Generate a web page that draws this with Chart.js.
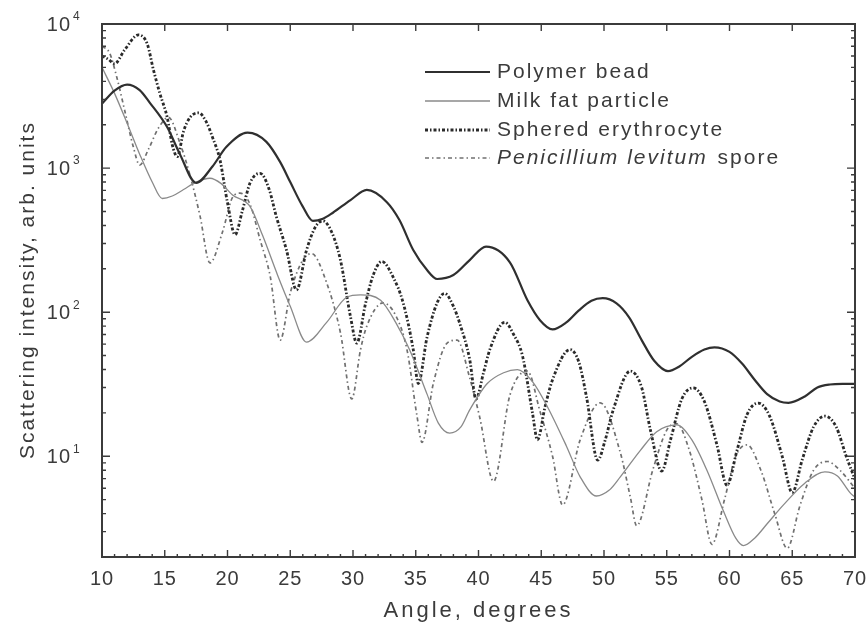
<!DOCTYPE html>
<html>
<head>
<meta charset="utf-8">
<title>Scattering intensity vs angle</title>
<script src="https://cdn.jsdelivr.net/npm/chart.js@4.4.1/dist/chart.umd.min.js"></script>
<style>
  html, body { margin: 0; padding: 0; background: #fff; }
  #wrap { width: 868px; height: 632px; }
</style>
</head>
<body>
<div id="wrap"><canvas id="scatterChart" width="868" height="632"></canvas></div>
<script>
// scattering angle (deg) and intensity (arb. units) per particle type
const beadAngles = [10, 11, 12, 13, 13.8, 15.2, 16.2, 17.5, 18.8, 19.9, 21.6, 23.1, 24.2, 25, 26, 26.8, 27.6, 28.4, 29.8, 31.1,
  32.7, 33.7, 34.8, 35.9, 36.7, 38, 39.3, 40.6, 42.5, 43.9, 44.9, 45.9, 47, 48, 49, 49.9, 51, 52, 53, 54,
  55.1, 56, 57, 58, 58.8, 60, 61, 62, 63, 64, 64.7, 66, 67, 68, 69, 70];
const beadValues = [2800, 3450, 3800, 3480, 2850, 1920, 1255, 790, 1025, 1400, 1760, 1520, 1100, 800, 540, 430, 445, 490, 600, 705,
  580, 436, 270, 196, 170, 181, 230, 285, 222, 121, 88, 76, 85, 103, 120, 125, 115, 92, 64, 46,
  39, 42, 49, 55, 57, 53, 44, 34, 27, 24, 23.5, 26, 30, 31.5, 31.8, 31.8];

const milkAngles = [10, 11, 12, 13, 14, 14.8, 15.6, 16.5, 17.5, 18.6, 19.5, 20.4, 21.8, 22.8, 24, 25, 26.3, 27.9, 29.5, 30.6,
  32.2, 33.4, 34.5, 35.9, 36.8, 37.7, 38.6, 39.3, 40.7, 42, 43.1, 44.3, 45.5, 47, 48.1, 49.4, 50.4, 51.3, 52.9, 54.2,
  55.8, 57, 58.2, 59.5, 60.5, 61.1, 62, 63, 64.3, 66, 67.6, 68.6, 69.6, 70];
const milkValues = [5000, 3300, 2050, 1250, 800, 615, 640, 710, 800, 850, 780, 650, 540, 340, 180, 110, 62, 85, 127, 132,
  121, 85, 55, 27, 17, 14.5, 16, 21, 32, 38, 40, 33, 22, 11.8, 7.2, 5.3, 5.8, 7.2, 11, 14.8,
  16.5, 13, 8, 4.2, 2.7, 2.4, 2.7, 3.4, 4.6, 6.5, 7.8, 7.3, 5.6, 5.2];

const cellAngles = [10, 10.5, 11, 11.8, 12.9, 13.6, 14.1, 14.6, 15.2, 15.6, 16, 16.5, 17, 17.7, 18.3, 18.8, 19.4, 20, 20.6, 21.2,
  21.8, 22.6, 23.3, 23.9, 24.7, 25.5, 26.3, 27, 27.6, 28.3, 29, 29.8, 30.3, 31, 31.6, 32.3, 33.2, 34, 34.8, 35.2,
  35.9, 36.7, 37.3, 38, 38.5, 39.3, 39.8, 40.4, 40.9, 42.1, 42.8, 43.5, 44.3, 44.7, 45.3, 45.9, 47.3, 48, 48.6, 49.5,
  50.1, 50.7, 52.1, 53, 53.7, 54.6, 55.3, 56.2, 57.1, 58, 59, 59.8, 60.6, 61.4, 62.3, 63.2, 64.2, 65, 65.8, 66.7,
  67.6, 68.5, 69.3, 70];
const cellValues = [6000, 5700, 5300, 6600, 8400, 7300, 4800, 3320, 2240, 1450, 1200, 1800, 2240, 2420, 2100, 1640, 1140, 574, 345, 512,
  790, 920, 720, 458, 270, 143, 270, 390, 430, 360, 230, 93, 61, 115, 180, 225, 175, 116, 55, 32,
  67, 116, 135, 110, 84, 47, 25, 38, 55, 85, 70, 50, 20, 13, 22, 34, 55, 45, 26, 9.4,
  13, 20.5, 39, 30, 15.2, 7.9, 13, 25, 29.8, 24, 12, 6.3, 11, 19.5, 23.4, 19, 10, 5.6, 9.5, 16,
  19, 16, 10, 6.9];

const sporeAngles = [10, 10.6, 11.2, 11.8, 12.5, 13, 13.7, 14.5, 15.3, 16.2, 17, 17.8, 18.6, 19.6, 20.4, 21, 21.8, 22.6, 23.4, 24.2,
  25, 26, 26.7, 27.9, 29, 29.9, 30.6, 31.1, 32.4, 33.4, 34.3, 35.1, 35.5, 36.4, 37.5, 38.3, 39.3, 40.1, 41.2, 42.5,
  43.9, 44.9, 45.9, 46.7, 48.1, 49.7, 51.3, 52.1, 52.6, 53.9, 55, 55.8, 56.8, 57.8, 58.6, 59.6, 60.5, 61.4, 62.5, 63.6,
  64.6, 65.6, 66.7, 67.8, 68.8, 70];
const sporeValues = [7000, 6300, 4200, 2530, 1400, 1050, 1350, 1900, 2250, 1500, 900, 470, 220, 360, 626, 670, 560, 317, 178, 64,
  136, 230, 255, 160, 72, 25, 55, 80, 116, 95, 55, 19, 12.5, 32, 61, 64, 35, 18.6, 6.7, 26.5,
  39, 20.5, 10, 4.6, 13, 23.5, 10.6, 5.2, 3.3, 8.1, 15.2, 16.8, 11, 5, 2.45, 5, 10, 12, 8, 4,
  2.3, 4.5, 8, 9.2, 8, 6];

const seriesLabels = ['Polymer bead', 'Milk fat particle', 'Sphered erythrocyte', 'Penicillium levitum spore'];
const xTicks = [10, 15, 20, 25, 30, 35, 40, 45, 50, 55, 60, 65, 70];
const yExponents = [1, 2, 3, 4];

const X_MIN = 10, X_MAX = 70, Y_MIN = 2, Y_MAX = 10000;
const INK = '#3b3b3b';
const FONT = '"Liberation Sans", Arial, sans-serif';

function toPoints(xs, ys) {
  return xs.map((a, i) => ({ x: a, y: ys[i] }));
}

// frame, inward ticks, tick labels, axis titles and the legend box
const axisDecor = {
  id: 'axisDecor',
  afterDatasetsDraw(chart) {
    const { ctx, chartArea: a, scales: { x, y } } = chart;
    ctx.save();

    ctx.strokeStyle = INK;
    ctx.lineWidth = 2;
    ctx.strokeRect(a.left, a.top, a.right - a.left, a.bottom - a.top);

    ctx.lineWidth = 1.4;
    ctx.beginPath();
    for (let v = X_MIN; v <= X_MAX; v++) {
      const px = x.getPixelForValue(v);
      const major = v % 5 === 0;
      const len = major ? 7 : 3;
      ctx.moveTo(px, a.bottom); ctx.lineTo(px, a.bottom - len);
      if (major) { ctx.moveTo(px, a.top); ctx.lineTo(px, a.top + len); }
    }
    for (let d = 0; d <= 4; d++) {
      for (let m = 1; m <= 9; m++) {
        const v = m * Math.pow(10, d);
        if (v < Y_MIN || v > Y_MAX) continue;
        const py = y.getPixelForValue(v);
        const len = m === 1 ? 8 : 4;
        ctx.moveTo(a.left, py); ctx.lineTo(a.left + len, py);
        ctx.moveTo(a.right, py); ctx.lineTo(a.right - len, py);
      }
    }
    ctx.stroke();

    ctx.fillStyle = INK;
    ctx.letterSpacing = '1px';
    ctx.font = '20px ' + FONT;
    ctx.textAlign = 'center';
    ctx.textBaseline = 'middle';
    xTicks.forEach(v => ctx.fillText(String(v), x.getPixelForValue(v), a.bottom + 22));

    yExponents.forEach(e => {
      const py = y.getPixelForValue(Math.pow(10, e));
      ctx.font = '20px ' + FONT;
      ctx.textAlign = 'right';
      ctx.fillText('10', 71, py + 1);
      ctx.font = '12px ' + FONT;
      ctx.textAlign = 'left';
      ctx.fillText(String(e), 73, py - 7);
    });

    ctx.font = '22px ' + FONT;
    ctx.letterSpacing = '3px';
    ctx.textAlign = 'center';
    ctx.fillText('Angle, degrees', (a.left + a.right) / 2, 611);

    ctx.save();
    ctx.translate(28, 290);
    ctx.rotate(-Math.PI / 2);
    ctx.font = '21px ' + FONT;
    ctx.letterSpacing = '2px';
    ctx.fillText('Scattering intensity, arb. units', 0, 0);
    ctx.restore();

    // legend
    const rowY = [72, 101, 130, 158];
    chart.data.datasets.forEach((ds, i) => {
      const ly = rowY[i];
      ctx.strokeStyle = ds.borderColor;
      ctx.lineWidth = ds.borderWidth;
      ctx.setLineDash(ds.borderDash || []);
      ctx.beginPath();
      ctx.moveTo(425, ly); ctx.lineTo(490, ly);
      ctx.stroke();
      ctx.setLineDash([]);

      ctx.fillStyle = INK;
      ctx.textAlign = 'left';
      ctx.letterSpacing = '2px';
      if (i === 3) {
        ctx.font = 'italic 21px ' + FONT;
        const it = 'Penicillium levitum';
        ctx.fillText(it, 497, ly);
        const w = ctx.measureText(it + ' ').width;
        ctx.font = '21px ' + FONT;
        ctx.fillText('spore', 497 + w + 2, ly);
      } else {
        ctx.font = '21px ' + FONT;
        ctx.fillText(ds.label, 497, ly);
      }
    });

    ctx.restore();
  }
};

new Chart(document.getElementById('scatterChart'), {
  type: 'line',
  data: {
    datasets: [
      {
        label: seriesLabels[0],
        data: toPoints(beadAngles, beadValues),
        borderColor: '#2f2f2f',
        borderWidth: 2.2
      },
      {
        label: seriesLabels[1],
        data: toPoints(milkAngles, milkValues),
        borderColor: '#8a8a8a',
        borderWidth: 1.3
      },
      {
        label: seriesLabels[2],
        data: toPoints(cellAngles, cellValues),
        borderColor: '#2a2a2a',
        borderWidth: 2.8,
        borderDash: [3, 2, 1.5, 2]
      },
      {
        label: seriesLabels[3],
        data: toPoints(sporeAngles, sporeValues),
        borderColor: '#707070',
        borderWidth: 1.7,
        borderDash: [4, 3, 1.5, 3]
      }
    ]
  },
  options: {
    responsive: false,
    animation: false,
    layout: { padding: { left: 102, right: 13, top: 24, bottom: 75 } },
    datasets: {
      line: { fill: false, pointRadius: 0, cubicInterpolationMode: 'monotone' }
    },
    plugins: {
      legend: { display: false },
      tooltip: { enabled: false }
    },
    scales: {
      x: { type: 'linear', min: X_MIN, max: X_MAX, display: false },
      y: { type: 'logarithmic', min: Y_MIN, max: Y_MAX, display: false }
    }
  },
  plugins: [axisDecor]
});
</script>
</body>
</html>
